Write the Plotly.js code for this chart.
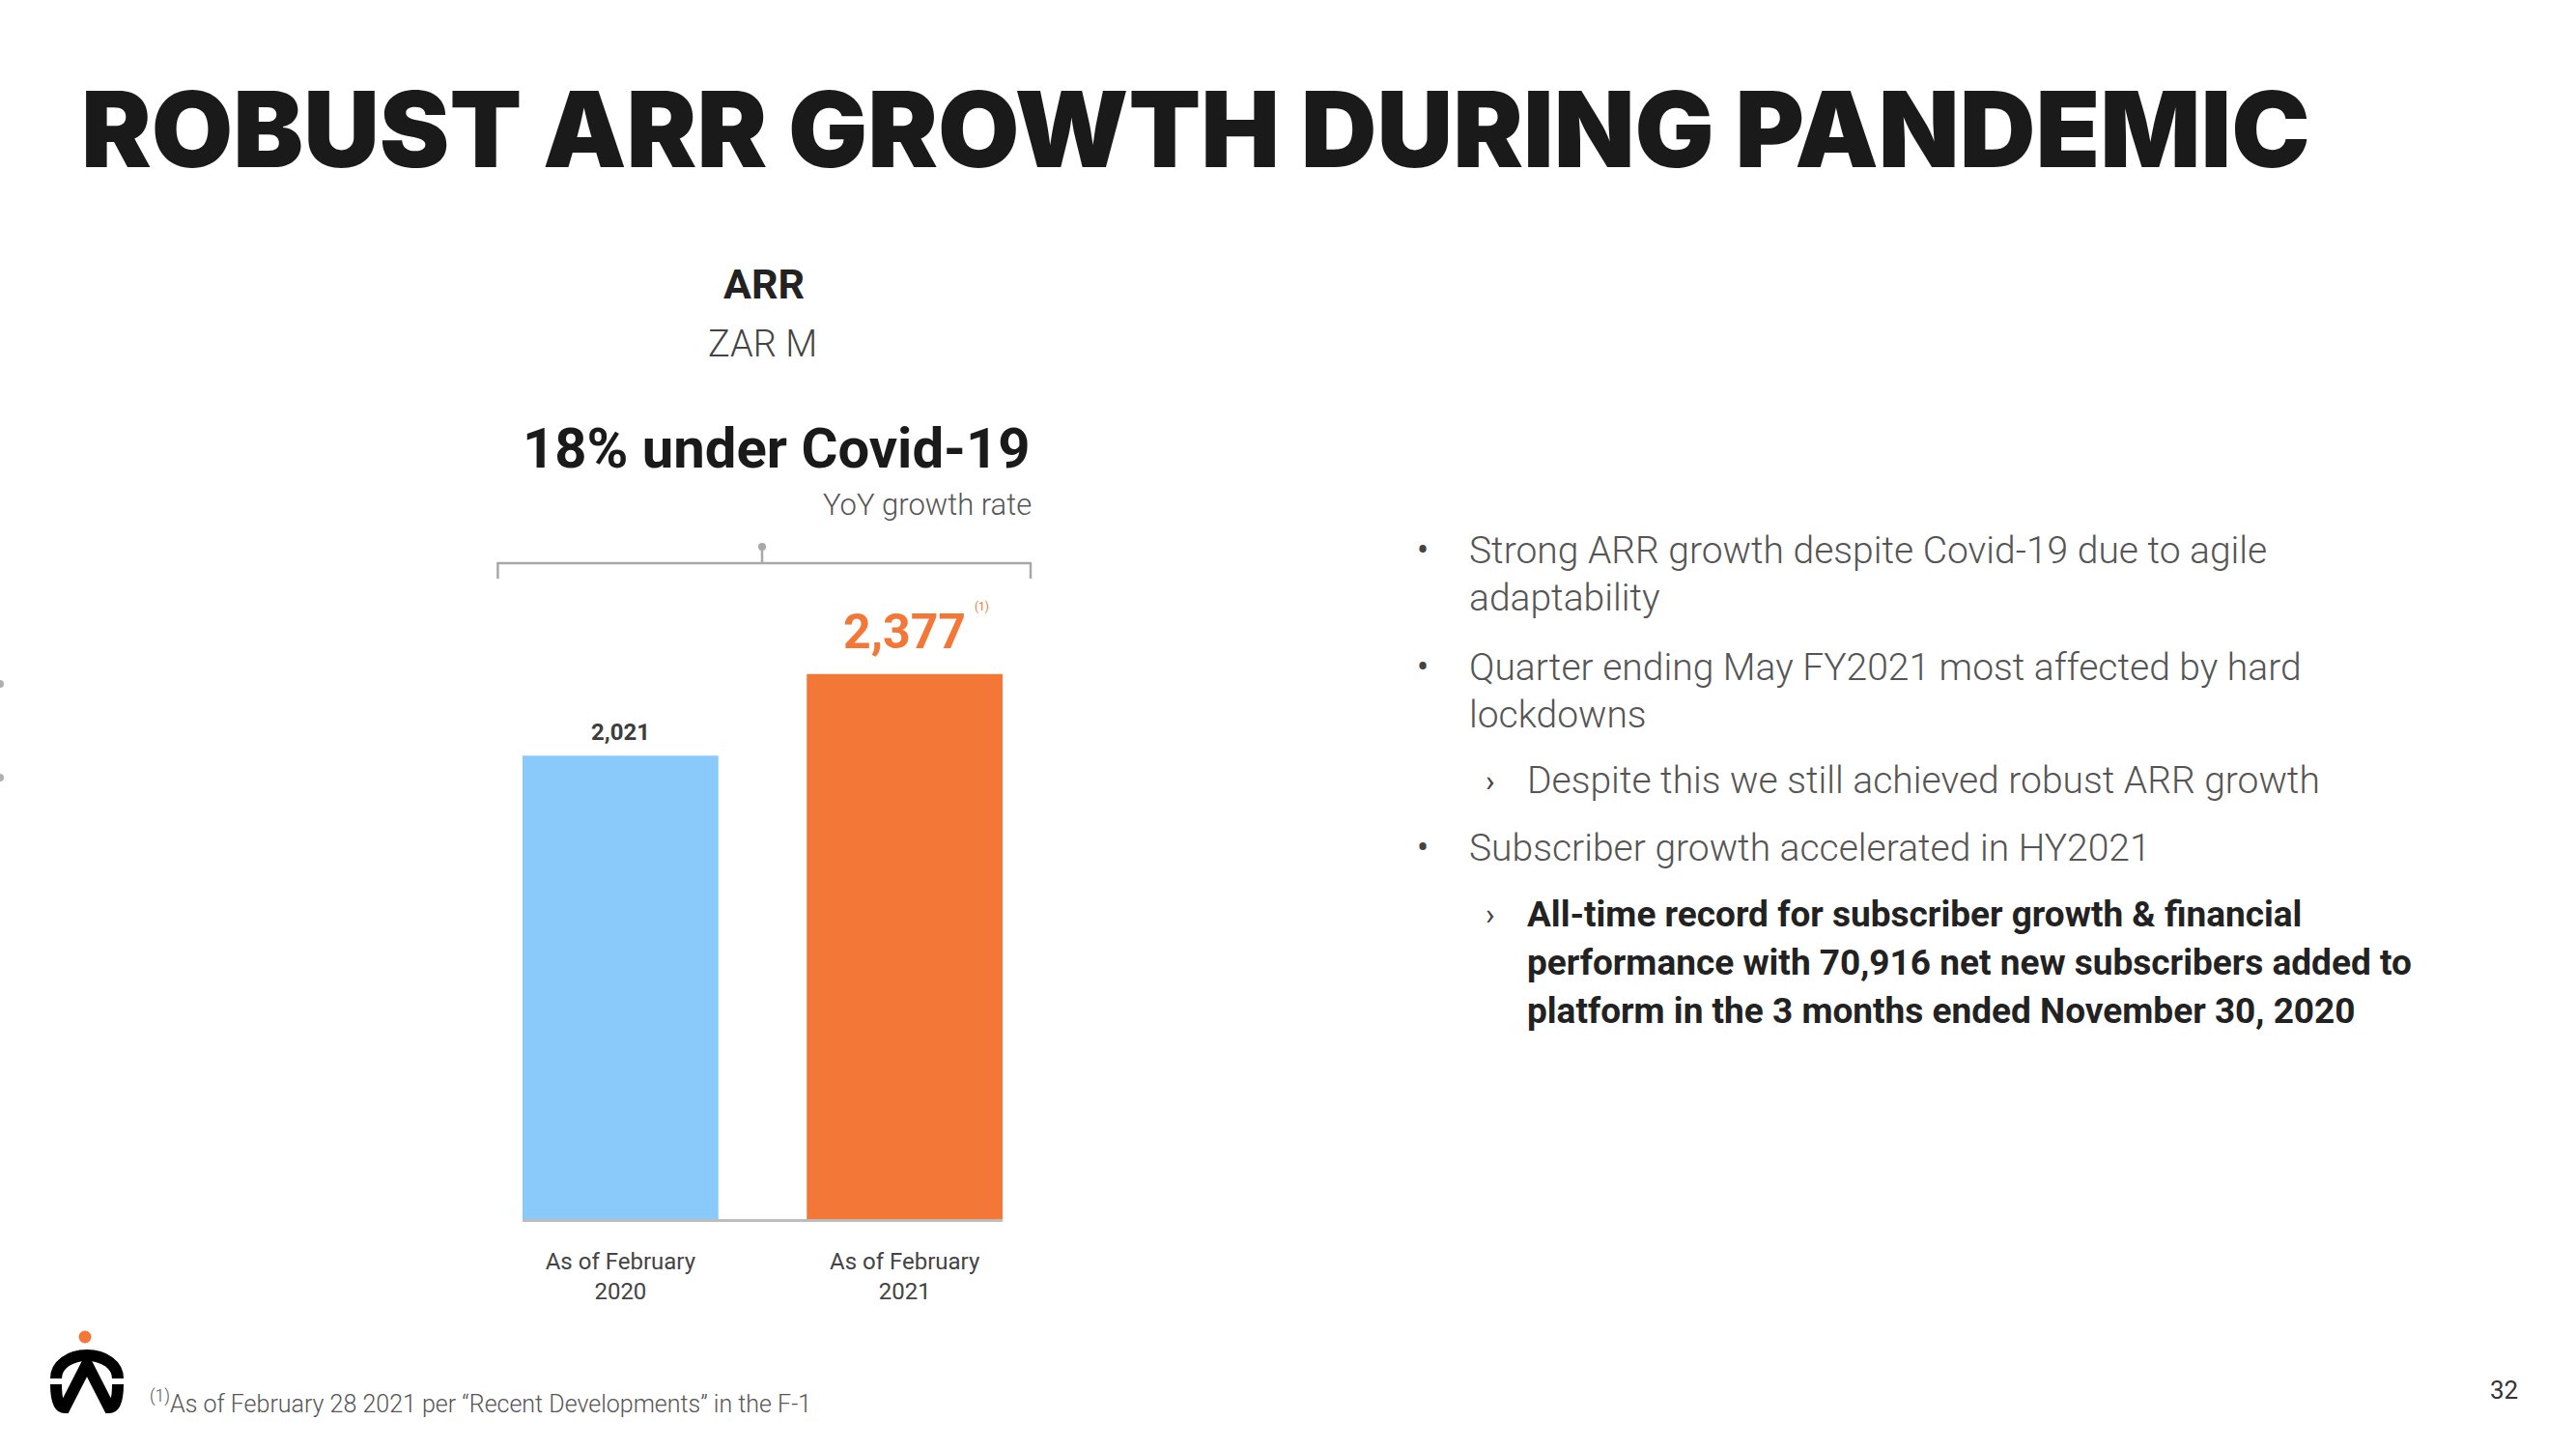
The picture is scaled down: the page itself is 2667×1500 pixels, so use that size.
<!DOCTYPE html>
<html><head><meta charset="utf-8">
<script src="https://cdn.plot.ly/plotly-3.0.1.min.js"></script>
<style>html,body{margin:0;padding:0;background:#fff;overflow:hidden}#chart{width:2667px;height:1500px;}</style>
</head><body><div id="chart"></div>
<script>
// ---- data ----
const categories = ["As of February<br>2020", "As of February<br>2021"];
const arrValues = [2021, 2377];
const valueLabels = ["2,021", "2,377"];
const slideTitle = "ROBUST ARR GROWTH DURING PANDEMIC";
const chartTitle = "ARR";
const chartUnit = "ZAR M";
const growthHeadline = "18% under Covid-19";
const growthCaption = "YoY growth rate";
const footnote = "<sup>(1)</sup>As of February 28 2021 per \u201cRecent Developments\u201d in the F-1";
const pageNumber = "32";
const bulletLines = [
  {lvl: 1, mark: true, bold: false, text: "Strong ARR growth despite Covid-19 due to agile"},
  {lvl: 1, mark: false, bold: false, text: "adaptability"},
  {lvl: 1, mark: true, bold: false, text: "Quarter ending May FY2021 most affected by hard"},
  {lvl: 1, mark: false, bold: false, text: "lockdowns"},
  {lvl: 2, mark: true, bold: false, text: "Despite this we still achieved robust ARR growth"},
  {lvl: 1, mark: true, bold: false, text: "Subscriber growth accelerated in HY2021"},
  {lvl: 2, mark: true, bold: true, text: "All-time record for subscriber growth & financial"},
  {lvl: 2, mark: false, bold: true, text: "performance with 70,916 net new subscribers added to"},
  {lvl: 2, mark: false, bold: true, text: "platform in the 3 months ended November 30, 2020"}
];

// ---- layout helpers ----
const W = 2667, H = 1500;
const px = x => x / W;
const py = y => 1 - y / H;
const lineY = [570, 619, 691, 740, 808, 878, 946, 997, 1046];
const barColors = ["#8ACAFB", "#F37736"];
const labelFonts = [
  {family: "Roboto", size: 24, weight: 700, color: "#3d3d3d"},
  {family: "Roboto", size: 50, weight: 700, color: "#F37736"}
];
const labelShift = [24, 44];

const trace = {
  type: "bar",
  x: categories.map((c, i) => i),
  y: arrValues,
  marker: {color: barColors, line: {width: 0}},
  hoverinfo: "skip",
  showlegend: false
};

const ann = [];
function txt(x, y, text, font, xanchor, yanchor) {
  ann.push({xref: "paper", yref: "paper", x: px(x), y: py(y), text: text, showarrow: false,
    xanchor: xanchor || "center", yanchor: yanchor || "middle", font: font, align: "left"});
}
// data labels
arrValues.forEach((v, i) => {
  ann.push({xref: "x", yref: "y", x: i, y: v, text: valueLabels[i], showarrow: false,
    xanchor: "center", yanchor: "middle", yshift: labelShift[i], font: labelFonts[i]});
});
ann.push({xref: "x", yref: "y", x: 1, y: arrValues[1], text: "(1)", showarrow: false,
  xanchor: "center", yanchor: "middle", xshift: 80, yshift: 70,
  font: {family: "Roboto", size: 12, color: "#F37736"}});

txt(82, 133, slideTitle, {family: "Inter", size: 109, weight: 900, color: "#1a1a1a"}, "left");
txt(791, 294, chartTitle, {family: "Roboto", size: 43, weight: 700, color: "#222"});
txt(789, 356, chartUnit, {family: "Roboto", size: 38, weight: 300, color: "#444"});
txt(804, 464, growthHeadline, {family: "Roboto", size: 58, weight: 700, color: "#1a1a1a"});
txt(1070, 522, growthCaption, {family: "Roboto", size: 31, weight: 300, color: "#555"}, "right");
txt(153, 1451, footnote, {family: "Roboto", size: 25, weight: 300, color: "#555"}, "left");
txt(2592, 1439, pageNumber, {family: "Roboto", size: 26, weight: 400, color: "#333"});

bulletLines.forEach((b, i) => {
  const tx = b.lvl === 1 ? 1519 : 1579;
  const mx = b.lvl === 1 ? 1473 : 1543;
  const font = b.bold ? {family: "Roboto", size: 37, weight: 700, color: "#222"}
                      : {family: "Roboto", size: 39, weight: 300, color: "#555"};
  txt(tx, lineY[i], b.text, font, "left");
  if (b.mark) {
    txt(mx, lineY[i], b.lvl === 1 ? "\u2022" : "\u203a", {family: "Roboto", size: b.lvl === 1 ? 36 : 32, weight: 400, color: "#444"}, "center");
  }
});

// shapes: bracket + logo
const grey = "#a8a8a8";
function seg(x0, y0, x1, y1, color, width) {
  return {type: "line", xref: "paper", yref: "paper", x0: px(x0), y0: py(y0), x1: px(x1), y1: py(y1),
    line: {color: color, width: width}};
}
function circ(cx, cy, r, color) {
  return {type: "circle", xref: "paper", yref: "paper", x0: px(cx - r), x1: px(cx + r), y0: py(cy + r), y1: py(cy - r),
    fillcolor: color, line: {width: 0}};
}
function path(pts, color, width) {
  const s = pts.map(p => {
    const nums = p.slice(1);
    const parts = [];
    for (let k = 0; k < nums.length; k += 2) parts.push(px(nums[k]).toFixed(6) + "," + py(nums[k + 1]).toFixed(6));
    return p[0] + " " + parts.join(" ");
  }).join(" ");
  return {type: "path", xref: "paper", yref: "paper", path: s, line: {color: color, width: width}};
}
const shapes = [
  seg(515.4, 583, 1067, 583, grey, 2.5),
  seg(515.4, 582, 515.4, 599, grey, 2.5),
  seg(1067, 582, 1067, 599, grey, 2.5),
  seg(789, 566, 789, 583, grey, 2.5),
  circ(789, 566, 4, grey),
  // logo
  circ(88, 1384, 6.5, "#F37736"),
  path([["M", 58, 1427], ["C", 58, 1413, 72, 1403, 90, 1403], ["C", 108, 1403, 122, 1413, 122, 1427]], "#000", 12),
  path([["M", 58, 1433], ["C", 58, 1450, 61, 1457, 67, 1457], ["L", 90, 1412], ["L", 113, 1457], ["C", 119, 1457, 122, 1450, 122, 1433]], "#000", 12),
  // faint edge marks
  circ(0, 708, 4, "#b0b0b0"),
  circ(0, 805, 4, "#b0b0b0")
];

const layout = {
  width: W, height: H,
  margin: {l: 0, r: 0, t: 0, b: 0},
  paper_bgcolor: "#fff", plot_bgcolor: "rgba(0,0,0,0)",
  bargap: 0.311,
  xaxis: {
    domain: [px(541), px(1038)],
    range: [-0.3445, 1.3445],
    tickvals: [0, 1], ticktext: categories,
    showgrid: false, zeroline: false,
    showline: true, linecolor: "#bdbdbd", linewidth: 3, layer: "below traces",
    ticks: "", ticklabelstandoff: 20,
    tickfont: {family: "Roboto", size: 24, color: "#444"},
    fixedrange: true
  },
  yaxis: {
    domain: [py(1262.3), py(668.5)],
    range: [0, 2500], visible: false, showgrid: false, zeroline: false, fixedrange: true
  },
  annotations: ann,
  shapes: shapes,
  showlegend: false
};

Plotly.newPlot("chart", [trace], layout, {displayModeBar: false, staticPlot: true});
</script>
</body></html>
